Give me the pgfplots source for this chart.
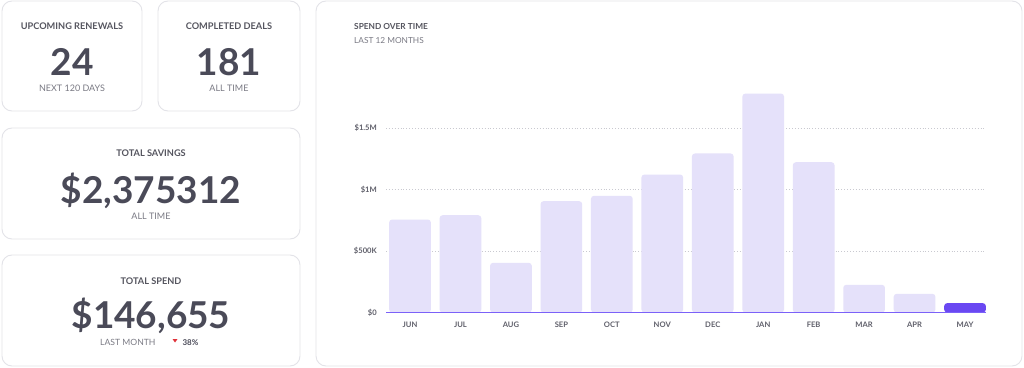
\documentclass[border=0pt]{standalone}
\usepackage{pgfplots}
\pgfplotsset{compat=1.18}
\usepackage{fontspec}
\setmainfont{Lato}
\definecolor{cardborder}{HTML}{E3E3E8}
\definecolor{numcol}{HTML}{4A4A58}
\definecolor{headcol}{HTML}{55555F}
\definecolor{subcol}{HTML}{7A7A84}
\definecolor{barlight}{HTML}{E5E1FA}
\definecolor{bardark}{HTML}{6A48F2}
\definecolor{axiscol}{HTML}{7B61F8}
\definecolor{gridcol}{HTML}{C9C9D0}
\definecolor{tickcol}{HTML}{5F5F6A}
\definecolor{redcol}{HTML}{E0323A}
\begin{document}
\begin{tikzpicture}[x=1pt,y=1pt]
\useasboundingbox (0,0) rectangle (1024,367);
\fill[white] (0,0) rectangle (1024,367);
% cards
\draw[cardborder, line width=0.9pt, rounded corners=10pt] (2,256) rectangle (142,366);
\draw[cardborder, line width=0.9pt, rounded corners=10pt] (158,256) rectangle (300,366);
\draw[cardborder, line width=0.9pt, rounded corners=10pt] (2,128) rectangle (300,239);
\draw[cardborder, line width=0.9pt, rounded corners=10pt] (2,1) rectangle (300,112);
\draw[cardborder, line width=0.9pt, rounded corners=10pt] (316,1) rectangle (1022,366);
% card 1
\node[anchor=base, inner sep=0pt, text=headcol, font=\fontsize{9.2}{10}\selectfont\bfseries] at (72,337.7) {UPCOMING RENEWALS};
\node[anchor=base, inner sep=0pt, text=numcol, font=\fontsize{37}{40}\selectfont\bfseries] at (72,291) {24};
\node[anchor=base, inner sep=0pt, text=subcol, font=\fontsize{9}{10}\selectfont] at (72,275.3) {NEXT 120 DAYS};
% card 2
\node[anchor=base, inner sep=0pt, text=headcol, font=\fontsize{9.2}{10}\selectfont\bfseries] at (229,337.7) {COMPLETED DEALS};
\node[anchor=base, inner sep=0pt, text=numcol, font=\fontsize{37}{40}\selectfont\bfseries] at (229,291) {181};
\node[anchor=base, inner sep=0pt, text=subcol, font=\fontsize{9}{10}\selectfont] at (229,275.3) {ALL TIME};
% card 3
\node[anchor=base, inner sep=0pt, text=headcol, font=\fontsize{9.2}{10}\selectfont\bfseries] at (151,210.3) {TOTAL SAVINGS};
\node[anchor=base, inner sep=0pt, text=numcol, font=\fontsize{37}{40}\selectfont\bfseries] at (151,164) {\$2,375312};
\node[anchor=base, inner sep=0pt, text=subcol, font=\fontsize{9}{10}\selectfont] at (151,148) {ALL TIME};
% card 4
\node[anchor=base, inner sep=0pt, text=headcol, font=\fontsize{9.2}{10}\selectfont\bfseries] at (151,83) {TOTAL SPEND};
\node[anchor=base, inner sep=0pt, text=numcol, font=\fontsize{37}{40}\selectfont\bfseries] at (151,39) {\$146,655};
\node[anchor=base west, inner sep=0pt, text=subcol, font=\fontsize{8.6}{10}\selectfont] at (100,21.3) {LAST MONTH};
\fill[redcol] (172.5,28) -- (177.5,28) -- (175,24.5) -- cycle;
\node[anchor=base west, inner sep=0pt, text=numcol, font=\fontsize{8}{10}\selectfont\bfseries] at (182.3,21.3) {38\%};
% chart titles
\node[anchor=base west, inner sep=0pt, text=headcol, font=\fontsize{8.3}{10}\selectfont\bfseries] at (354,337.7) {SPEND OVER TIME};
\node[anchor=base west, inner sep=0pt, text=subcol, font=\fontsize{8.3}{10}\selectfont] at (354,323.7) {LAST 12 MONTHS};
\begin{axis}[
  at={(386pt,54.5pt)}, anchor=south west,
  scale only axis, width=600pt, height=227.5pt,
  xmin=-0.476, xmax=11.416, ymin=0, ymax=1850000,
  axis line style={draw=none},
  major tick length=0pt,
  xtick={0,1,2,3,4,5,6,7,8,9,10,11},
  xticklabels={JUN,JUL,AUG,SEP,OCT,NOV,DEC,JAN,FEB,MAR,APR,MAY},
  ytick={0,500000,1000000,1500000},
  yticklabels={\$0,\$500K,\$1M,\$1.5M},
  scaled y ticks=false,
  ymajorgrids,
  grid style={dash pattern=on 0.9pt off 2pt, gridcol, line width=0.9pt},
  ticklabel style={font=\fontsize{7.6}{8}\selectfont\bfseries, text=tickcol},
  yticklabel style={anchor=east, inner sep=0pt, xshift=-9pt},
  xticklabel style={anchor=north, inner sep=0pt, yshift=-9.2pt},
  ybar, bar width=41.7pt, bar shift=0pt,
]
\addplot[fill=barlight, draw=none, rounded corners=3pt] coordinates {
  (0,756000) (1,791000) (2,404000) (3,905000) (4,949000) (5,1122000)
  (6,1293000) (7,1780000) (8,1222000) (9,225000) (10,152000)
};
\addplot[fill=bardark, draw=none, rounded corners=3pt] coordinates {
  (11,76000)
};
\draw[axiscol, line width=1pt] (rel axis cs:0,0) -- (rel axis cs:1,0);
\end{axis}
\end{tikzpicture}
\end{document}
